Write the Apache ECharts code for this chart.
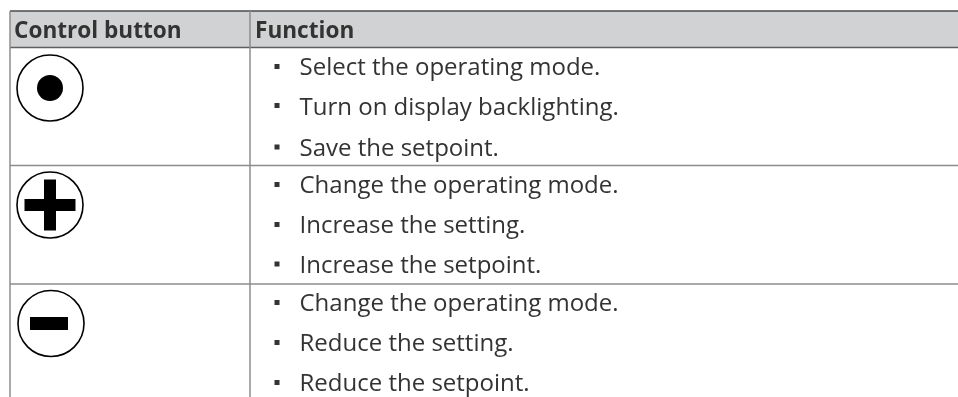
<!DOCTYPE html>
<html><head><meta charset="utf-8">
<style>html,body{margin:0;padding:0;background:#fff}#c{width:958px;height:397px}</style>
<script src="https://cdn.jsdelivr.net/npm/echarts@6/dist/echarts.min.js"></script>
</head><body><div id="c"></div>
<script>
const headers = ['Control button', 'Function'];
const buttons = ['dot', 'plus', 'minus'];
const functions = [
  ['Select the operating mode.', 'Turn on display backlighting.', 'Save the setpoint.'],
  ['Change the operating mode.', 'Increase the setting.', 'Increase the setpoint.'],
  ['Change the operating mode.', 'Reduce the setting.', 'Reduce the setpoint.']
];
const layout = {
  left: 10, divider: 250, right: 958, top: 11, headerBottom: 47.5, bottom: 397,
  rowLines: [165.5, 284],
  textY: [[67, 106.5, 147.5], [185, 225, 264.5], [302.5, 342.5, 383]],
  bulletY: [[66.5, 105.5, 147], [184.5, 224.5, 264], [302.5, 342.5, 382.5]],
  iconC: [[50, 88], [50, 205], [51, 323.5]],
  bulletX: 277, textX: 299.5, textShift: 1.5
};
const font = '"Open Sans","Noto Sans",sans-serif', ink = '#333333', rule = '#8c8c8c';
const g = [];
const line = (x1, y1, x2, y2, stroke, w) => g.push({type: 'line', shape: {x1, y1, x2, y2}, style: {stroke, lineWidth: w}, z: 3});
const text = (x, y, t, size, weight) => g.push({type: 'text', x, y: y + layout.textShift, z: 4,
  style: {text: t, fontFamily: font, fontSize: size, fontWeight: weight, fill: ink, verticalAlign: 'middle'}});

g.push({type: 'rect', shape: {x: layout.left, y: layout.top, width: layout.right - layout.left, height: layout.headerBottom - layout.top}, style: {fill: '#d1d2d4'}, z: 1});
line(layout.left, layout.top, layout.right, layout.top, '#4a4a4a', 1.5);
line(layout.left, layout.headerBottom, layout.right, layout.headerBottom, '#5f5f5f', 1.5);
line(layout.left, layout.top, layout.left, layout.bottom, rule, 1.5);
line(layout.divider, layout.top, layout.divider, layout.bottom, rule, 1.5);
layout.rowLines.forEach(y => line(layout.left, y, layout.right, y, rule, 1.5));
text(14, 30, headers[0], 22.6, 700);
text(255, 30, headers[1], 22.6, 700);

buttons.forEach((b, i) => {
  const [cx, cy] = layout.iconC[i];
  g.push({type: 'circle', shape: {cx, cy, r: 33}, style: {fill: '#fff', stroke: '#000', lineWidth: 1.6}, z: 3});
  const solid = {fill: '#000'};
  if (b === 'dot') g.push({type: 'circle', shape: {cx, cy, r: 13}, style: solid, z: 4});
  if (b === 'plus') {
    g.push({type: 'rect', shape: {x: cx - 25.5, y: cy - 6, width: 51, height: 12}, style: solid, z: 4});
    g.push({type: 'rect', shape: {x: cx - 6, y: cy - 25.5, width: 12, height: 51}, style: solid, z: 4});
  }
  if (b === 'minus') g.push({type: 'rect', shape: {x: cx - 21, y: cy - 6.5, width: 38, height: 13}, style: solid, z: 4});
  functions[i].forEach((t, j) => {
    const y = layout.bulletY[i][j];
    g.push({type: 'rect', shape: {x: layout.bulletX - 2.5, y: y - 2.5, width: 5, height: 5}, style: {fill: ink}, z: 4});
    text(layout.textX, layout.textY[i][j], t, 24, 400);
  });
});
const chart = echarts.init(document.getElementById('c'), null, {renderer: 'canvas'});
chart.setOption({animation: false, backgroundColor: '#fff', graphic: {elements: g}});
</script></body></html>
